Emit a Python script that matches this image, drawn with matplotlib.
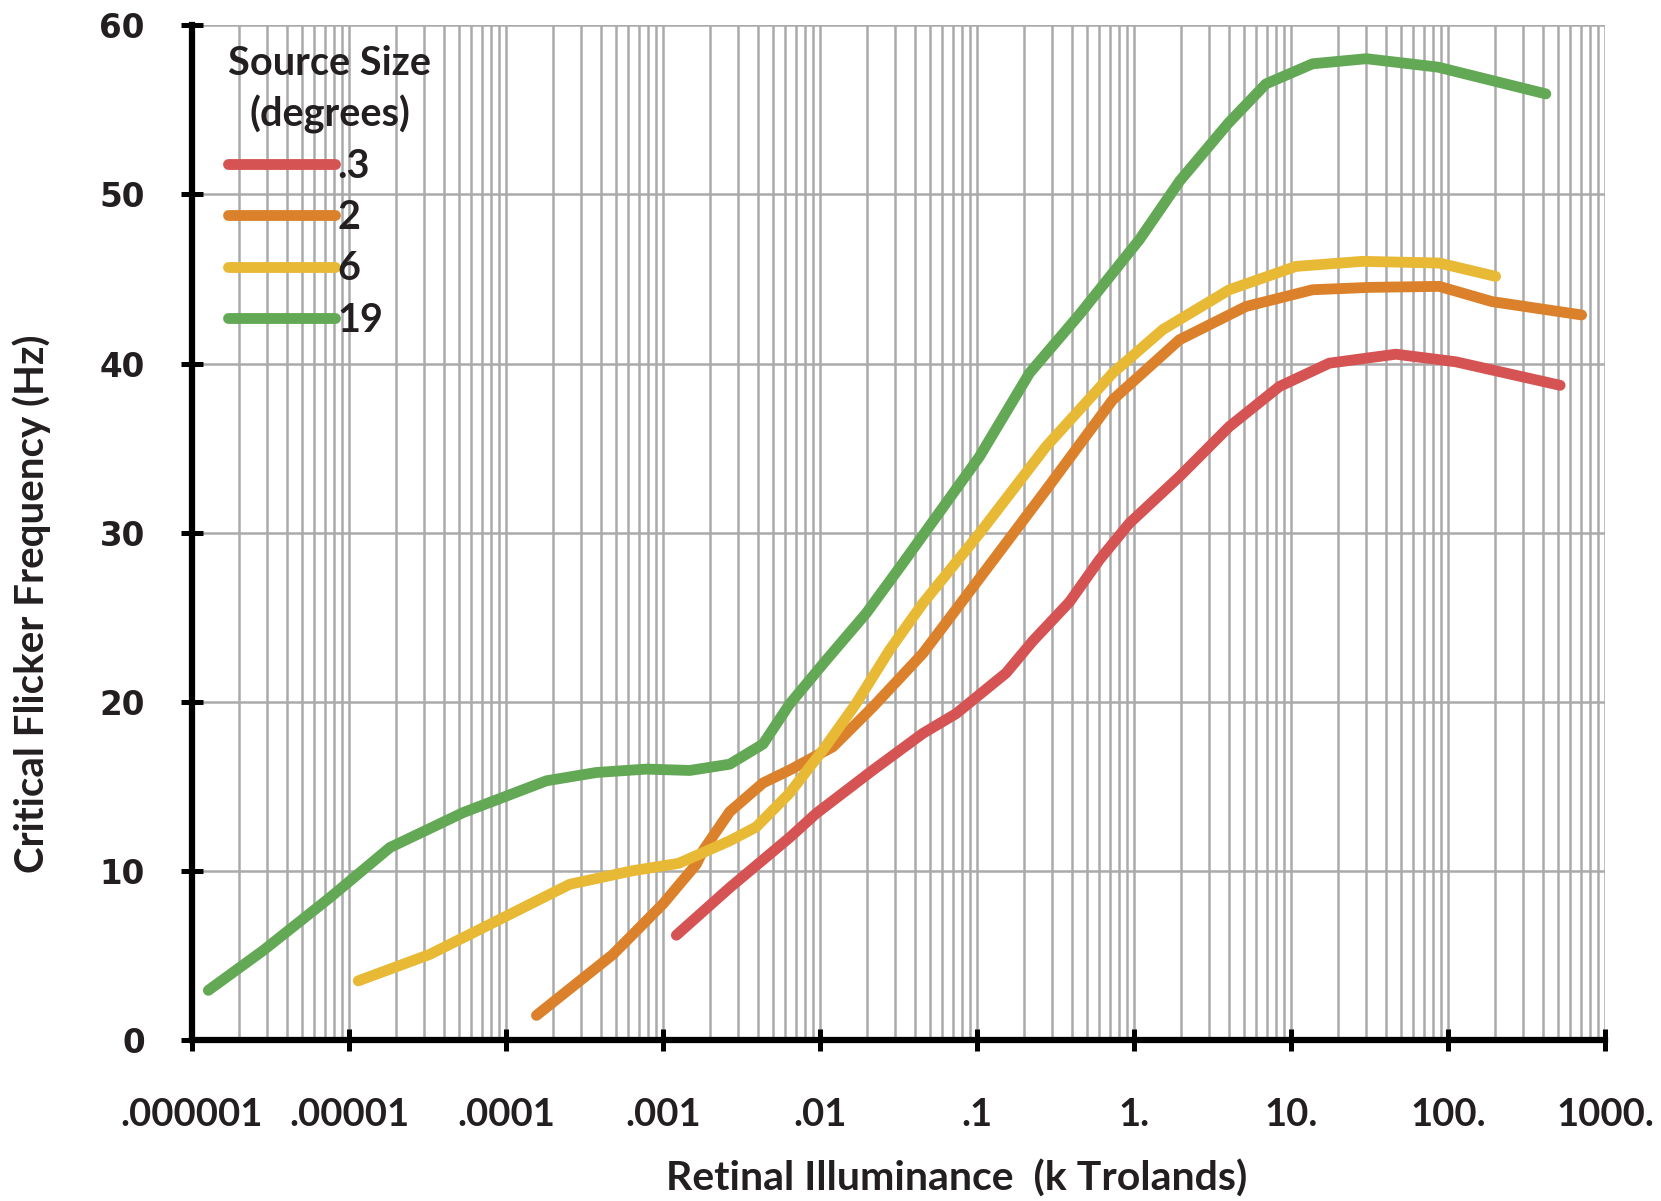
import numpy as np
import matplotlib
matplotlib.use("Agg")
import matplotlib.pyplot as plt
from matplotlib.ticker import FixedLocator, LogLocator, NullFormatter

# Critical flicker frequency vs retinal illuminance
# x values stored as log10(k Trolands)
green_logx = [-5.896, -5.546, -5.122, -4.74, -4.273, -3.742, -3.424, -3.106, -2.83, -2.575,
              -2.363, -2.194, -1.96, -1.706, -1.472, -0.984, -0.666, -0.347, 0.034, 0.291,
              0.6, 0.84, 1.137, 1.48, 1.937, 2.623]
green_cff = [2.94, 5.3, 8.42, 11.38, 13.45, 15.33, 15.82, 16.02, 15.94, 16.31,
             17.5, 19.86, 22.47, 25.23, 28.2, 34.5, 39.43, 42.9, 47.32, 50.79,
             54.2, 56.53, 57.72, 58.02, 57.52, 55.94]

yellow_logx = [-4.941, -4.485, -4.06, -3.594, -3.2, -2.9, -2.575, -2.406, -2.194, -1.982,
               -1.77, -1.557, -1.345, -0.984, -0.56, -0.136, 0.183, 0.607, 1.031, 1.456,
               1.944, 2.303]
yellow_cff = [3.5, 5.07, 7.04, 9.21, 10.0, 10.45, 11.78, 12.6, 14.6, 17.14,
              19.9, 23.06, 25.82, 29.96, 35.09, 39.43, 42.0, 44.36, 45.74, 46.04,
              45.94, 45.15]

orange_logx = [-3.806, -3.318, -3.0, -2.788, -2.745, -2.575, -2.363, -2.194, -1.918, -1.663,
               -1.345, -1.0, -0.56, -0.136, 0.289, 0.713, 1.137, 1.5, 1.944, 2.28, 2.851]
orange_cff = [1.46, 5.07, 8.05, 10.39, 11.2, 13.5, 15.2, 15.96, 17.34, 19.7,
              22.86, 27.1, 32.53, 37.85, 41.4, 43.37, 44.36, 44.5, 44.56, 43.66, 42.87]

red_logx = [-2.915, -2.575, -2.194, -2.024, -1.663, -1.345, -1.133, -0.815, -0.644, -0.411,
            -0.22, -0.029, 0.289, 0.607, 0.926, 1.244, 1.668, 2.05, 2.714]
red_cff = [6.2, 9.01, 11.97, 13.4, 15.96, 18.13, 19.3, 21.7, 23.6, 25.9,
           28.4, 30.56, 33.31, 36.27, 38.64, 40.02, 40.55, 40.1, 38.71]

sizes = [".3", "2", "6", "19"]
colors = ["#D55353", "#DC812B", "#E8B935", "#63A855"]

xtick_vals = [1e-6, 1e-5, 1e-4, 1e-3, 1e-2, 1e-1, 1, 10, 100, 1000]
xtick_labels = [".000001", ".00001", ".0001", ".001", ".01", ".1", "1.", "10.", "100.", "1000."]
ytick_vals = [0, 10, 20, 30, 40, 50, 60]

label_font = ["Lato", "DejaVu Sans"]
text_color = "#231F20"

fig = plt.figure(figsize=(16.61, 12.01), dpi=100)
fig.subplots_adjust(left=0.1156, right=0.9663, bottom=0.134, top=0.979)
ax = fig.add_subplot(111)

series = [(red_logx, red_cff), (orange_logx, orange_cff),
          (yellow_logx, yellow_cff), (green_logx, green_cff)]
for (lx, cff), c, lab in zip(series, colors, sizes):
    ax.plot(10 ** np.array(lx), cff, color=c, lw=7.8, label=lab,
            solid_capstyle="round", solid_joinstyle="round", zorder=3)

ax.set_xscale("log")
ax.set_xlim(1e-6, 1e3)
ax.set_ylim(0, 60)

# grid: every log minor line + 10 Hz lines
ax.xaxis.set_major_locator(FixedLocator(xtick_vals))
ax.xaxis.set_minor_locator(LogLocator(base=10, subs=np.arange(2, 10), numticks=100))
ax.xaxis.set_minor_formatter(NullFormatter())
ax.set_xticks(xtick_vals)
ax.set_xticklabels(xtick_labels, fontfamily=label_font, fontweight="bold",
                   fontsize=27.5, color=text_color)
ax.set_yticks(ytick_vals)
ax.set_yticklabels([str(v) for v in ytick_vals], fontfamily="DejaVu Sans",
                   fontweight="bold", fontsize=23.5, color=text_color)

ax.grid(True, which="both", axis="x", color="#AAAAAA", lw=1.8, zorder=0)
ax.grid(True, which="major", axis="y", color="#AAAAAA", lw=1.8, zorder=0)
ax.set_axisbelow(True)

for s in ["top", "right"]:
    ax.spines[s].set_visible(False)
for s in ["left", "bottom"]:
    ax.spines[s].set_linewidth(4.5)
    ax.spines[s].set_color("black")
    ax.spines[s].set_zorder(4)

ax.tick_params(axis="both", which="major", direction="inout", length=16, width=3.6,
               color="black")
ax.tick_params(axis="x", which="major", pad=34)
ax.tick_params(axis="y", which="major", pad=26)
ax.tick_params(axis="x", which="minor", length=0)

ax.set_xlabel("Retinal Illuminance  (k Trolands)", fontfamily=label_font,
              fontweight="bold", fontsize=29.5, color=text_color)
ax.xaxis.set_label_coords(0.541, -0.118)
ax.set_ylabel("Critical Flicker Frequency (Hz)", fontfamily=label_font,
              fontweight="bold", fontsize=29, color=text_color)
ax.yaxis.set_label_coords(-0.1, 0.43)

leg = ax.legend(title="Source Size\n(degrees)", loc="upper left",
                bbox_to_anchor=(0.006, 1.008), frameon=False, alignment="left",
                handlelength=2.7, handletextpad=0.05, labelspacing=0.36,
                borderpad=0.2,
                prop={"family": label_font, "weight": "bold", "size": 28.5})
title = leg.get_title()
title.set_fontfamily(label_font)
title.set_fontweight("bold")
title.set_fontsize(28.5)
title.set_color(text_color)
title.set_multialignment("center")
title.set_linespacing(1.4)
for t in leg.get_texts():
    t.set_color(text_color)

fig.savefig("out.png", dpi=100)
